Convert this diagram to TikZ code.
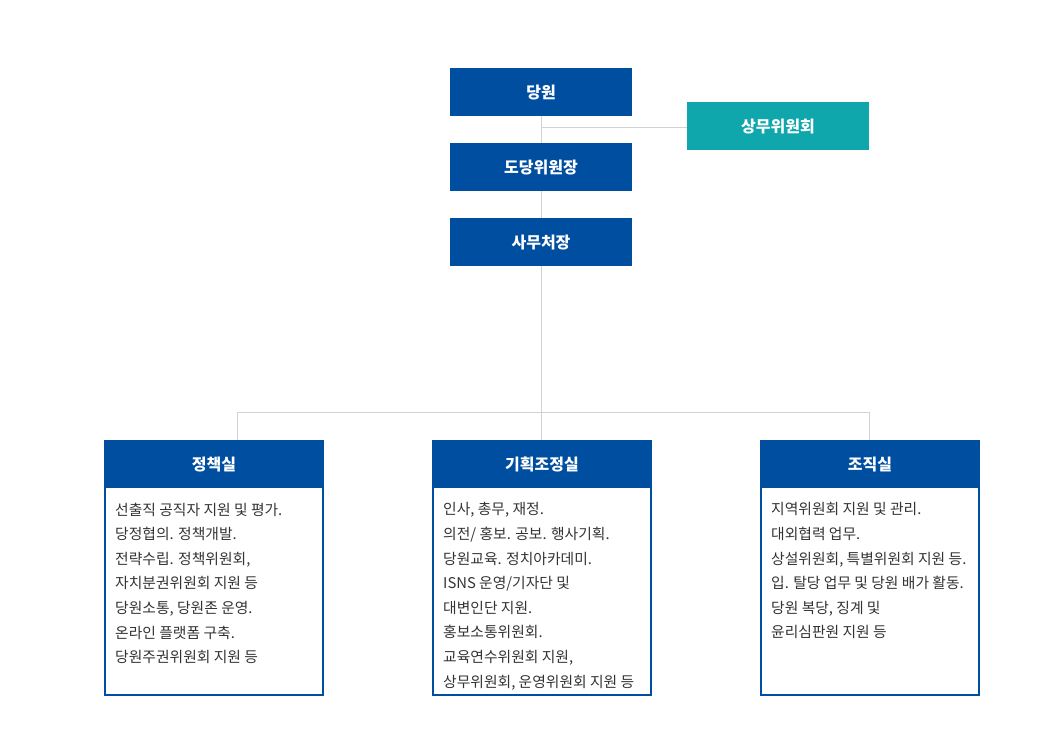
\documentclass[tikz,border=0pt]{standalone}
\usepackage{fontspec}
\setmainfont{Noto Sans CJK KR}
\usetikzlibrary{positioning}
\definecolor{orgblue}{HTML}{004EA0}
\definecolor{orgteal}{HTML}{0FA6AC}
\definecolor{linegray}{HTML}{D2D2D2}
\definecolor{textgray}{HTML}{333333}

\begin{document}
\begin{tikzpicture}[x=1pt,y=-1pt,
  topbox/.style={fill=orgblue, text=white, minimum width=182pt, minimum height=48pt,
    inner sep=0pt, text depth=1pt, font=\fontsize{16}{18}\selectfont\bfseries},
  sidebox/.style={topbox, fill=orgteal},
  framebox/.style={draw=orgblue, line width=2pt, minimum width=218pt, minimum height=254pt, inner sep=0pt},
  headbox/.style={fill=orgblue, text=white, minimum width=220pt, minimum height=48pt,
    inner sep=0pt, text depth=1pt, font=\fontsize{16}{18}\selectfont\bfseries},
  listtext/.style={anchor=north west, align=left, inner sep=0pt, text=textgray,
    font=\fontsize{14.8}{24.6}\selectfont},
  conn/.style={draw=linegray, line width=1pt}]
\useasboundingbox (0,0) rectangle (1060,741);

% top of the chart
\node[topbox] (party) at (541,92) {당원};
\node[topbox] (chair) at (541,167) {도당위원장};
\node[topbox] (secretary) at (541,242) {사무처장};
\node[sidebox] (committee) at (778,126) {상무위원회};

% the three offices
\node[framebox] (policy) at (214,568) {};
\node[headbox] (policyhead) at (214,464) {정책실};
\node[listtext] (policytext) at (115,502.5) {선출직 공직자 지원 및 평가.\\당정협의. 정책개발.\\전략수립. 정책위원회,\\자치분권위원회 지원 등\\당원소통, 당원존 운영.\\온라인 플랫폼 구축.\\당원주권위원회 지원 등};

\node[framebox] (planning) at (542,568) {};
\node[headbox] (planninghead) at (542,464) {기획조정실};
\node[listtext] (planningtext) at (443,502.5) {인사, 총무, 재정.\\의전/ 홍보. 공보. 행사기획.\\당원교육. 정치아카데미.\\ISNS 운영/기자단 및\\대변인단 지원.\\홍보소통위원회.\\교육연수위원회 지원,\\상무위원회, 운영위원회 지원 등};

\node[framebox] (organize) at (870,568) {};
\node[headbox] (organizehead) at (870,464) {조직실};
\node[listtext] (organizetext) at (771,502.5) {지역위원회 지원 및 관리.\\대외협력 업무.\\상설위원회, 특별위원회 지원 등.\\입. 탈당 업무 및 당원 배가 활동.\\당원 복당, 징계 및\\윤리심판원 지원 등};

% connectors
\coordinate (branch) at (541.5,128);
\coordinate (bus) at (541.5,412);
\coordinate (busleft) at (237,412);
\coordinate (busright) at (869,412);
\draw[conn] (party.south -| branch) -- (chair.north -| branch);
\draw[conn] (branch) -- (committee.west |- branch);
\draw[conn] (chair.south -| branch) -- (secretary.north -| branch);
\draw[conn] (secretary.south -| bus) -- (bus);
\draw[conn] (busleft) -- (busright);
\draw[conn] (busleft) -- (policyhead.north -| busleft);
\draw[conn] (bus) -- (planninghead.north -| bus);
\draw[conn] (busright) -- (organizehead.north -| busright);
\end{tikzpicture}
\end{document}
